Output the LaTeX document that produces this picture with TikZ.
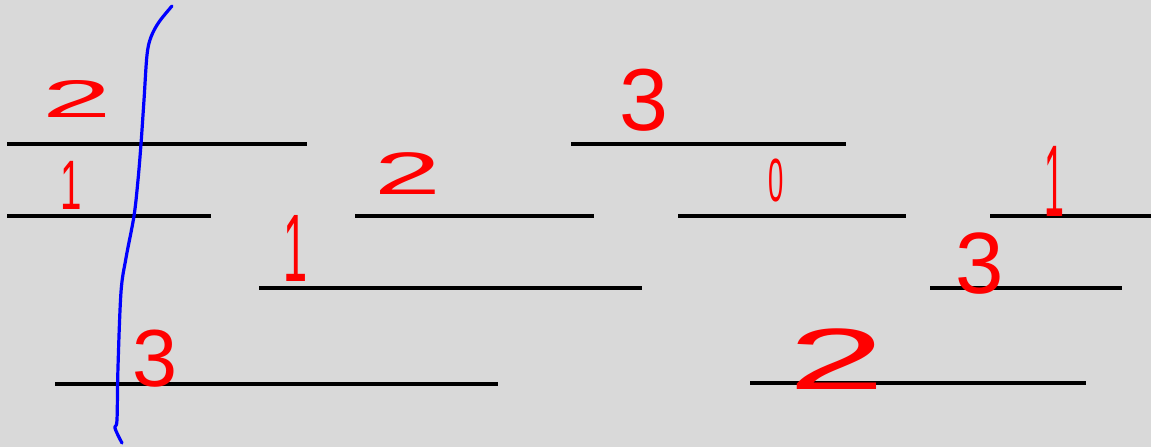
\documentclass[tikz,border=0pt]{standalone}
\usepackage{fontspec}
\setmainfont{Liberation Sans}
\definecolor{bg}{RGB}{217,217,217}
\definecolor{pen}{RGB}{255,0,0}
\definecolor{ink}{RGB}{0,0,255}
\tikzset{
  bar/.style={line width=4.5pt, black},
  digit/.style={text=pen, inner sep=0pt, anchor=center},
  cut/.style={line width=3.2pt, ink, line cap=round, line join=round}
}
\newcommand{\fsz}[1]{\fontsize{#1}{#1}\selectfont}
\begin{document}
\begin{tikzpicture}[x=1pt,y=-1pt]
\fill[bg] (0,0) rectangle (1151,447);
\useasboundingbox (0,0) rectangle (1151,447);
% horizontal segments
\draw[bar] (7,144) -- (307,144);
\draw[bar] (571,144) -- (846,144);
\draw[bar] (7,216) -- (211,216);
\draw[bar] (355,216) -- (594,216);
\draw[bar] (678,216) -- (906,216);
\draw[bar] (990,216) -- (1151,216);
\draw[bar] (259,288) -- (642,288);
\draw[bar] (930,288) -- (1122,288);
\draw[bar] (55,384) -- (498,384);
\draw[bar] (750,383) -- (1086,383);
% blue cut line
\draw[cut] plot[smooth, tension=0.55] coordinates {(172,6) (159,22) (151,37) (147,55) (144,100) (141,144) (138,180) (134,216) (126,258) (121,292) (118,367) (117,420) (115,428) (122,443)};
% labels
\node[digit, font=\fsz{53}, xscale=2.35] (n1) at (77,99) {2};
\node[digit, font=\fsz{70}, xscale=0.55] (n2) at (71,185) {1};
\node[digit, font=\fsz{81}] (n3) at (155,359) {3};
\node[digit, font=\fsz{96}, xscale=0.45] (n4) at (296,248) {1};
\node[digit, font=\fsz{60}, xscale=2.0] (n5) at (408,174) {2};
\node[digit, font=\fsz{88}] (n6) at (644,100) {3};
\node[digit, font=\fsz{61}, xscale=0.45] (n7) at (776,180) {0};
\node[digit, font=\fsz{102}, xscale=0.35] (n8) at (1054,181) {1};
\node[digit, font=\fsz{87}] (n9) at (980,264) {3};
\node[digit, font=\fsz{87}, xscale=2.0] (n10) at (837,359) {2};
\end{tikzpicture}
\end{document}
